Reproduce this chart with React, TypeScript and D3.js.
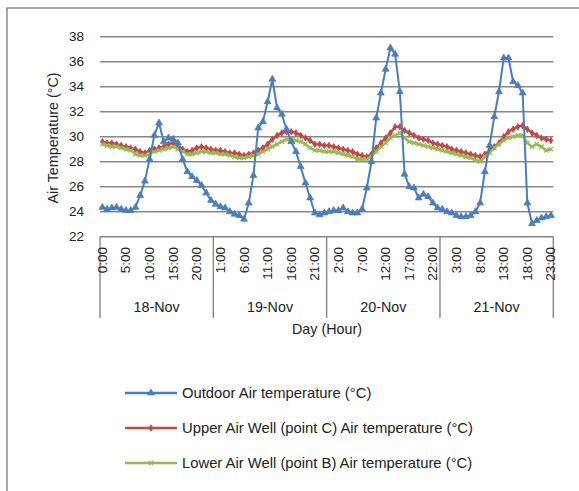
import React from "react";
import * as d3 from "d3";

const days = ["18-Nov", "19-Nov", "20-Nov", "21-Nov"];
const hoursPerDay = 24;
const yTicks = [22, 24, 26, 28, 30, 32, 34, 36, 38];

const outdoor = [
  24.35, 24.2, 24.3, 24.35, 24.2, 24.1, 24.1, 24.35, 25.3, 26.45, 28.2, 30.1,
  31.1, 29.6, 29.9, 29.8, 29.5, 28.2, 27.2, 26.8, 26.5, 26.1, 25.5, 24.9,
  24.6, 24.4, 24.3, 24.0, 23.8, 23.7, 23.4, 24.7, 26.9, 30.7, 31.2, 32.8,
  34.6, 32.3, 31.8, 30.6, 29.6, 28.8, 27.6, 26.3, 25.1, 23.9, 23.75, 23.9,
  24.0, 24.1, 24.1, 24.3, 24.0, 23.9, 23.9, 24.2, 25.9, 28.0, 31.5, 33.5,
  35.4, 37.1, 36.6, 33.6, 27.0, 26.0, 25.9, 25.1, 25.4, 25.2, 24.7, 24.3,
  24.2, 24.0, 23.9, 23.7, 23.6, 23.6, 23.7, 24.0, 24.7, 27.2, 29.3, 31.6,
  33.6, 36.3, 36.3, 34.4, 34.1, 33.5, 24.7, 23.05, 23.3, 23.5, 23.6, 23.7,
];

const upper = [
  29.6, 29.5, 29.5, 29.4, 29.3, 29.2, 29.1, 29.0, 28.8, 28.7, 28.9, 29.0,
  29.1, 29.2, 29.4, 29.5, 29.3, 29.0, 28.8, 28.9, 29.1, 29.2, 29.1, 29.0,
  28.9, 28.9, 28.8, 28.7, 28.7, 28.6, 28.5, 28.6, 28.7, 28.9, 29.1, 29.4,
  29.8, 30.1, 30.3, 30.4, 30.4, 30.3, 30.1, 29.9, 29.7, 29.4, 29.4, 29.3,
  29.3, 29.2, 29.1, 29.0, 28.9, 28.8, 28.6, 28.5, 28.4, 28.6, 29.1, 29.5,
  29.9, 30.3, 30.8, 30.8, 30.5, 30.3, 30.1, 29.9, 29.8, 29.7, 29.5, 29.4,
  29.3, 29.2, 29.0, 28.9, 28.8, 28.7, 28.6, 28.5, 28.4, 28.6, 28.9, 29.2,
  29.5, 30.0, 30.4, 30.6, 30.8, 30.9, 30.6, 30.3, 30.1, 29.9, 29.8, 29.7,
];

const lower = [
  29.4, 29.3, 29.2, 29.2, 29.1, 29.0, 28.9, 28.6, 28.5, 28.5, 28.6, 28.8,
  28.9, 29.0, 29.1, 29.2, 29.0, 28.8, 28.6, 28.6, 28.7, 28.8, 28.8, 28.7,
  28.7, 28.6, 28.6, 28.5, 28.4, 28.3, 28.3, 28.4, 28.5, 28.6, 28.8, 29.0,
  29.2, 29.4, 29.6, 29.8, 29.8, 29.7, 29.6, 29.4, 29.1, 28.9, 28.9, 28.8,
  28.8, 28.8, 28.7, 28.6, 28.5, 28.4, 28.2, 28.2, 28.2, 28.4, 28.8, 29.2,
  29.5, 29.9, 30.1, 30.3, 29.9, 29.6, 29.5, 29.4, 29.3, 29.2, 29.1, 29.0,
  28.9, 28.8, 28.7, 28.6, 28.5, 28.4, 28.3, 28.1, 28.0, 28.4, 28.7, 29.1,
  29.4, 29.7, 29.9, 30.0, 30.1, 30.1, 29.5, 29.2, 29.4, 29.2, 28.9, 29.0,
];

const seriesNames = [
  "Outdoor Air temperature (°C)",
  "Upper Air Well (point C) Air temperature (°C)",
  "Lower Air Well (point B) Air temperature (°C)",
];
const colors = ["#4A7EBB", "#BE4B48", "#98B954"];

const FONT = "'Liberation Sans', Arial, sans-serif";
const GRID = "#878787";

export default function App() {
  const n = days.length * hoursPerDay;
  const idx = d3.range(n);
  const left = 100;
  const right = 553.3;
  const top = 36.7;
  const bottom = 236.7;

  const x = d3.scaleBand<number>().domain(idx).range([left, right]).paddingInner(0).paddingOuter(0);
  const cx = (i: number) => (x(i) as number) + x.bandwidth() / 2;
  const y = d3.scaleLinear().domain([22, 38]).range([bottom, top]);

  const line = d3
    .line<number>()
    .x((_, i) => cx(i))
    .y((d) => y(d));

  const tri = d3.symbol(d3.symbolTriangle, 20)() as string;
  const dia = d3.symbol(d3.symbolDiamond, 12)() as string;
  const cross = d3.symbol(d3.symbolX, 14)() as string;

  const dayWidth = (right - left) / days.length;
  const tickLabelIdx = idx.filter((i) => i % 5 === 0);

  const marker = (k: number, tx: number, ty: number, key: string | number) => {
    if (k === 0)
      return <path key={key} d={tri} transform={`translate(${tx},${ty})`} fill={colors[0]} stroke={colors[0]} strokeWidth={0.8} />;
    if (k === 1)
      return <path key={key} d={dia} transform={`translate(${tx},${ty})`} fill={colors[1]} stroke={colors[1]} strokeWidth={0.9} />;
    return <path key={key} d={cross} transform={`translate(${tx},${ty})`} fill={colors[2]} stroke={colors[2]} strokeWidth={1.3} />;
  };

  const data = [outdoor, upper, lower];
  const drawOrder = [1, 2, 0];

  return (
    <svg
      width={579}
      height={491}
      style={{ position: "absolute", left: 0, top: 0, background: "#fff" }}
      fontFamily={FONT}
    >
      <rect x={7} y={8} width={600} height={520} fill="#fff" stroke="#8a8a8a" strokeWidth={1.5} />

      {/* gridlines */}
      {yTicks.map((t) => (
        <line key={t} x1={left} x2={right} y1={y(t)} y2={y(t)} stroke={GRID} strokeWidth={1.4} />
      ))}

      {/* y tick labels */}
      {yTicks.map((t) => (
        <text key={"yl" + t} x={84} y={y(t)} textAnchor="end" dominantBaseline="central" fontSize={13.5} fill="#222">
          {t}
        </text>
      ))}

      {/* y axis title */}
      <text
        transform={`translate(53,138) rotate(-90)`}
        textAnchor="middle"
        dominantBaseline="central"
        fontSize={14.3}
        fill="#222"
      >
        Air Temperature (°C)
      </text>

      {/* day separators */}
      {d3.range(days.length + 1).map((d) => (
        <line
          key={"sep" + d}
          x1={left + d * dayWidth}
          x2={left + d * dayWidth}
          y1={bottom}
          y2={318}
          stroke={GRID}
          strokeWidth={1.4}
        />
      ))}

      {/* hour labels */}
      {tickLabelIdx.map((i) => (
        <text
          key={"hl" + i}
          transform={`translate(${cx(i)},247) rotate(-90)`}
          textAnchor="end"
          dominantBaseline="central"
          fontSize={13.5}
          fill="#222"
        >
          {`${i % hoursPerDay}:00`}
        </text>
      ))}

      {/* day labels */}
      {days.map((d, k) => (
        <text
          key={d}
          x={left + (k + 0.5) * dayWidth}
          y={307}
          textAnchor="middle"
          dominantBaseline="central"
          fontSize={14.3}
          fill="#222"
        >
          {d}
        </text>
      ))}

      {/* x axis title */}
      <text x={327} y={329} textAnchor="middle" dominantBaseline="central" fontSize={14.3} fill="#222">
        Day (Hour)
      </text>

      {/* series */}
      {drawOrder.map((k) => (
        <g key={"s" + k}>
          <path d={line(data[k]) as string} fill="none" stroke={colors[k]} strokeWidth={k === 0 ? 2 : 2.6} strokeLinejoin="round" />
          {data[k].map((v, i) => marker(k, cx(i), y(v), i))}
        </g>
      ))}

      {/* legend */}
      {seriesNames.map((name, k) => {
        const ly = 393 + k * 35;
        return (
          <g key={"lg" + k}>
            <line x1={125} x2={177} y1={ly} y2={ly} stroke={colors[k]} strokeWidth={2.4} />
            {marker(k, 151, ly, "m")}
            <text x={182} y={ly} dominantBaseline="central" fontSize={14.8} fill="#222">
              {name}
            </text>
          </g>
        );
      })}
    </svg>
  );
}
